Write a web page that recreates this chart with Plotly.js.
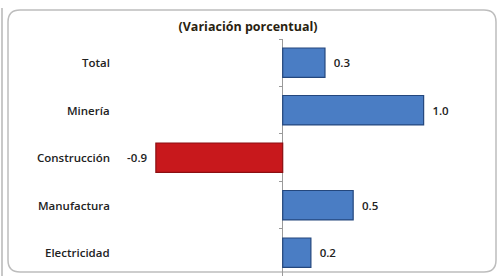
<!DOCTYPE html>
<html><head><meta charset="utf-8">
<script src="https://cdn.plot.ly/plotly-3.0.1.min.js"></script>
<style>html,body{margin:0;padding:0;background:#fff}#c{width:500px;height:276px}</style>
</head><body><div id="c"></div>
<script>
const categories = ["Total", "Minería", "Construcción", "Manufactura", "Electricidad"];
const values = [0.3, 1.0, -0.9, 0.5, 0.2];
const valueLabels = ["0.3", "1.0", "-0.9", "0.5", "0.2"];
const titleText = "(Variación porcentual)";

const FONT = "Open Sans, Liberation Sans, sans-serif";
const L = 115, R = 20, T = 39, B = 0, W = 500, H = 276;
const xr = [-1.19, 1.40];
const zeroPos = (0 - xr[0]) / (xr[1] - xr[0]);
const pw = W - L - R, ph = H - T - B;
const px = v => (v - L) / pw;
const py = v => (H - B - v) / ph;

const colors = values.map(v => v < 0 ? "#c8181c" : "#4a7dc4");
const lineColors = values.map(v => v < 0 ? "#8c0f12" : "#24477d");
const shownLabels = valueLabels.map((t, i) => values[i] < 0 ? t + "\u2002" : "\u2002" + t);

const trace = {
  type: "bar", orientation: "h",
  y: categories, x: values,
  text: shownLabels, textposition: "outside", cliponaxis: false,
  textfont: {family: FONT, size: 11.5, color: "#222", weight: 600},
  marker: {color: colors, line: {color: lineColors, width: 1.2}},
  width: 0.62, hoverinfo: "none"
};

const x0 = px(8), x1 = px(496), yt = py(10), yb = py(272);
const rx = 12 / pw, ry = 12 / ph;
const framePath = `M ${x0+rx},${yt} L ${x1-rx},${yt} Q ${x1},${yt} ${x1},${yt-ry} L ${x1},${yb+ry} Q ${x1},${yb} ${x1-rx},${yb} L ${x0+rx},${yb} Q ${x0},${yb} ${x0},${yb+ry} L ${x0},${yt-ry} Q ${x0},${yt} ${x0+rx},${yt} Z`;

const annotations = categories.map(c => ({
  xref: "paper", yref: "y", x: 0, y: c, xanchor: "right", yanchor: "middle",
  xshift: -3, showarrow: false, text: c,
  font: {family: FONT, size: 11.5, color: "#222", weight: 600}
}));

const layout = {
  width: W, height: H,
  margin: {l: L, r: R, t: T, b: B, pad: 0},
  paper_bgcolor: "#fff", plot_bgcolor: "rgba(0,0,0,0)",
  showlegend: false,
  title: {text: "<b>" + titleText + "</b>", x: 0.496, xanchor: "center", y: 1 - 27/276, yanchor: "middle",
          font: {family: FONT, size: 12.5, color: "#2a1f10"}},
  xaxis: {range: xr, showgrid: false, showticklabels: false, ticks: "",
          zeroline: true, zerolinecolor: "#9a9a9a", zerolinewidth: 1, showline: false, fixedrange: true},
  yaxis: {type: "category", range: [4.49, -0.5], anchor: "free", position: zeroPos,
          showgrid: false, showticklabels: false, showline: false,
          ticks: "outside", ticklen: 4, tickcolor: "#9a9a9a", tickson: "boundaries", fixedrange: true},
  shapes: [
    {type: "path", xref: "paper", yref: "paper", path: framePath,
     line: {color: "#bdbdbd", width: 1.5}, fillcolor: "rgba(0,0,0,0)", layer: "below"},
    {type: "line", xref: "paper", yref: "paper", x0: px(2), x1: px(2), y0: py(8), y1: py(276),
     line: {color: "#c8c8c8", width: 2}, layer: "below"}
  ],
  annotations: annotations
};

Plotly.newPlot("c", [trace], layout, {staticPlot: true, displayModeBar: false});
</script>
</body></html>
